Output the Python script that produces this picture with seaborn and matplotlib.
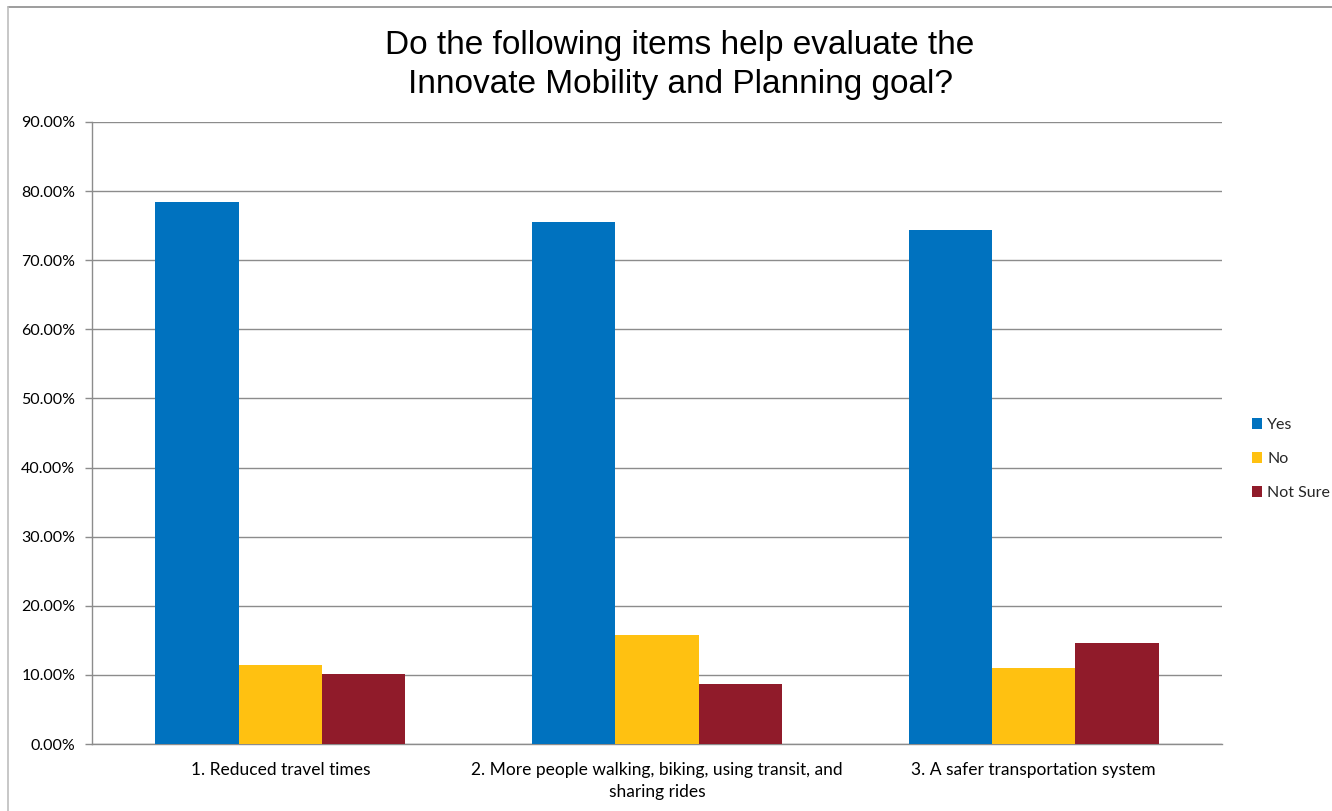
import matplotlib
matplotlib.use("Agg")
import matplotlib.pyplot as plt
from matplotlib.lines import Line2D
from matplotlib.patches import Patch
from matplotlib.ticker import FixedLocator, FuncFormatter
import seaborn as sns
import pandas as pd

# Survey responses per evaluation item (share of respondents)
items = [
    "1. Reduced travel times",
    "2. More people walking, biking, using transit, and\nsharing rides",
    "3. A safer transportation system",
]
answers = ["Yes", "No", "Not Sure"]
yes_share = [0.784, 0.755, 0.744]
no_share = [0.114, 0.158, 0.110]
not_sure_share = [0.101, 0.087, 0.146]
colors = ["#0072BF", "#FFC111", "#901B2A"]
y_ticks = [0.0, 0.1, 0.2, 0.3, 0.4, 0.5, 0.6, 0.7, 0.8, 0.9]

df = pd.DataFrame({
    "item": items * 3,
    "answer": [a for a in answers for _ in items],
    "share": yes_share + no_share + not_sure_share,
})

sns.set_theme(style="white")
plt.rcParams["font.family"] = ["Lato", "DejaVu Sans"]

W, H = 1332, 811
fig = plt.figure(figsize=(W / 100, H / 100), dpi=100)
ax = fig.add_axes([92 / W, 1 - 744 / H, (1222 - 92) / W, (744 - 122) / H])

sns.barplot(
    data=df, x="item", y="share", hue="answer",
    order=items, hue_order=answers, palette=colors,
    width=0.664, gap=0, linewidth=0, saturation=1,
    errorbar=None, legend=False, ax=ax, zorder=3,
)

ax.set_xlim(-0.5, 2.5)
ax.set_ylim(0, 0.9)
ax.yaxis.set_major_locator(FixedLocator(y_ticks))
ax.yaxis.set_major_formatter(FuncFormatter(lambda v, _: f"{v * 100:.2f}%"))
ax.grid(axis="y", color="#8C8C8C", linewidth=1.0, zorder=0)
ax.set_axisbelow(True)

ax.set_xticks(range(len(items)))
ax.set_xticklabels(items, linespacing=1.45, va="top", ha="center")

# category boundary ticks on the x axis
ax.xaxis.set_minor_locator(FixedLocator([-0.5, 0.5, 1.5, 2.5]))
ax.tick_params(axis="x", which="major", length=0, pad=13, labelsize=12.5, colors="black")
ax.tick_params(axis="x", which="minor", length=5, width=1, color="#8C8C8C", direction="out")
ax.tick_params(axis="y", which="major", length=5, width=1, color="#8C8C8C",
               direction="out", left=True, labelsize=11.5, colors="black", pad=7)

for side in ["top", "right"]:
    ax.spines[side].set_visible(False)
for side in ["left", "bottom"]:
    ax.spines[side].set_color("#8C8C8C")
    ax.spines[side].set_linewidth(1.0)
ax.set_xlabel("")
ax.set_ylabel("")

fig.text(680 / W, 1 - 65 / H,
         "Do the following items help evaluate the\nInnovate Mobility and Planning goal?",
         ha="center", va="center", fontsize=24, family=["Liberation Sans", "DejaVu Sans"],
         linespacing=1.3, color="black")

handles = [Patch(facecolor=c, edgecolor="none") for c in colors]
fig.legend(handles, answers, loc="center left", bbox_to_anchor=(1252 / W, 1 - 459 / H),
           frameon=False, fontsize=11.5, handlelength=0.65, handleheight=0.65,
           handletextpad=0.3, labelspacing=1.25, borderpad=0, borderaxespad=0)

# chart frame
fig.add_artist(Line2D([8 / W, 1.0], [1 - 7 / H, 1 - 7 / H], transform=fig.transFigure,
                      color="#8C8C8C", linewidth=1.2))
fig.add_artist(Line2D([8 / W, 8 / W], [0, 1 - 7 / H], transform=fig.transFigure,
                      color="#BEBEBE", linewidth=1.2))

fig.savefig("out.png", dpi=100)
